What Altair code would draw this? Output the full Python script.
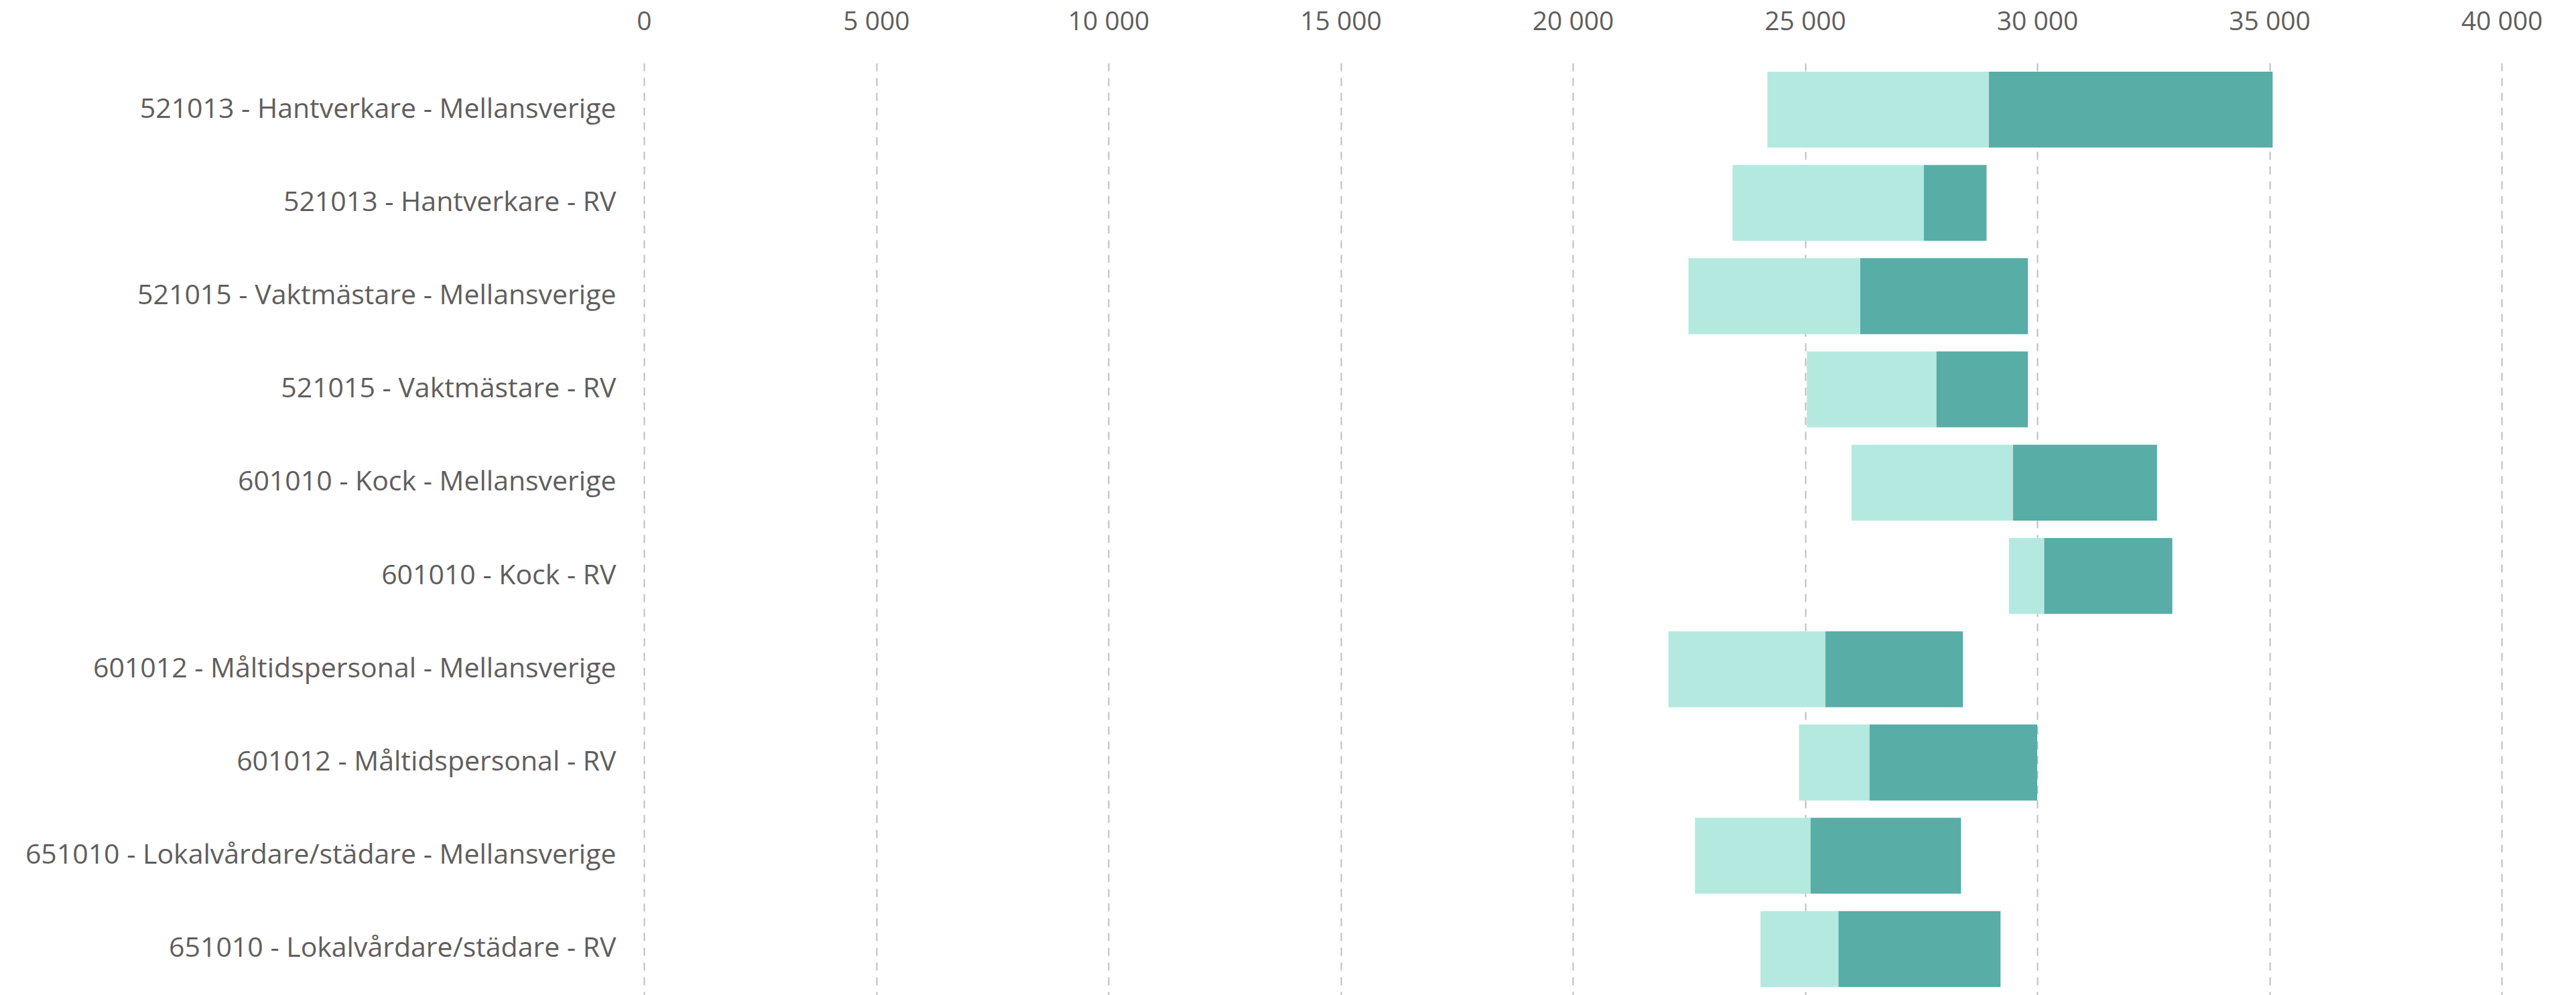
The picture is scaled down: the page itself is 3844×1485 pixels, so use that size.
import altair as alt
import pandas as pd

categories = [
    "521013 - Hantverkare - Mellansverige",
    "521013 - Hantverkare - RV",
    "521015 - Vaktmästare - Mellansverige",
    "521015 - Vaktmästare - RV",
    "601010 - Kock - Mellansverige",
    "601010 - Kock - RV",
    "601012 - Måltidspersonal - Mellansverige",
    "601012 - Måltidspersonal - RV",
    "651010 - Lokalvårdare/städare - Mellansverige",
    "651010 - Lokalvårdare/städare - RV",
]
low = [24190, 23440, 22490, 25040, 26000, 29390, 22060, 24870, 22630, 24040]
mid = [28960, 27560, 26190, 27830, 29480, 30150, 25440, 26390, 25120, 25720]
high = [35070, 28910, 29800, 29800, 32580, 32910, 28400, 30000, 28360, 29210]
segments = ["Nedre", "Övre"]
colors = ["#B4E9E0", "#58ADA7"]
x_ticks = [0, 5000, 10000, 15000, 20000, 25000, 30000, 35000, 40000]

rows = []
for c, a, b, h in zip(categories, low, mid, high):
    rows.append({"kategori": c, "segment": segments[0], "start": a, "end": b})
    rows.append({"kategori": c, "segment": segments[1], "start": b, "end": h})
df = pd.DataFrame(rows)

FONT = "Open Sans"
LABEL_COLOR = "#605E5C"

chart = (
    alt.Chart(df)
    .mark_bar()
    .encode(
        y=alt.Y(
            "kategori:N",
            sort=categories,
            title=None,
            scale=alt.Scale(paddingInner=0.186, paddingOuter=0.093),
            axis=alt.Axis(
                domain=False,
                ticks=False,
                grid=False,
                labelFont=FONT,
                labelFontSize=41,
                labelColor=LABEL_COLOR,
                labelPadding=42,
                labelLimit=1200,
                minExtent=953,
                maxExtent=953,
            ),
        ),
        x=alt.X(
            "start:Q",
            title=None,
            scale=alt.Scale(domain=[0, 40000], nice=False, zero=True),
            axis=alt.Axis(
                orient="top",
                values=x_ticks,
                domain=False,
                ticks=False,
                grid=True,
                gridDash=[12, 10],
                gridColor="#BEBEBE",
                gridWidth=2,
                labelFont=FONT,
                labelFontSize=39,
                labelColor=LABEL_COLOR,
                labelBaseline="alphabetic",
                labelPadding=50,
                labelExpr="datum.value == 0 ? '0' : format(datum.value / 1000, 'd') + ' 000'",
                labelFlush=False,
                minExtent=86,
                maxExtent=86,
            ),
        ),
        x2="end:Q",
        color=alt.Color(
            "segment:N",
            scale=alt.Scale(domain=segments, range=colors),
            legend=None,
        ),
    )
    .properties(width=2772, height=1392, padding=0)
    .configure_view(stroke=None)
)

chart.save("out.html", embed_options={"renderer": "svg", "actions": False})
